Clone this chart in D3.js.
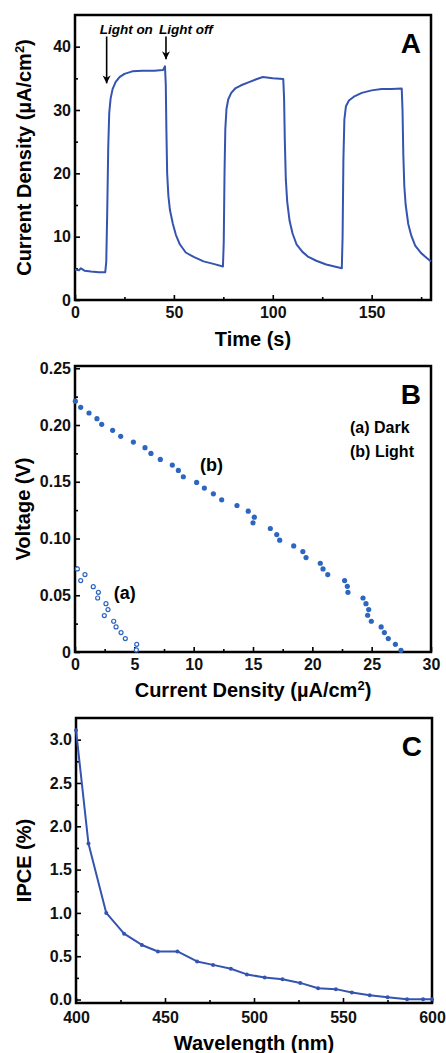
<!DOCTYPE html>
<html>
<head>
<meta charset="utf-8">
<script src="https://cdn.jsdelivr.net/npm/d3@7"></script>
<style>
  html, body { margin: 0; padding: 0; background: #fff; }
  svg { display: block; font-family: "Liberation Sans", Arial, sans-serif; }
  .tick text { font-size: 16px; font-weight: bold; fill: #111; }
  .tick line { stroke: #000; stroke-width: 1.6; }
</style>
</head>
<body>
<div id="chart"></div>
<script>
// Panel A: photocurrent transient
const timeA = [0, 2, 3, 5, 8, 12, 15.3, 15.8, 16.3, 16.8, 17.3, 18, 19, 20.5, 22.5, 25, 29, 34, 40, 44.5,
  45.5, 45.9, 46.2, 46.6, 47.2, 48, 49.5, 51, 53, 56, 60, 65, 70, 74.8, 75.2, 75.6, 76, 76.6, 77.5, 79,
  81, 84, 88, 92, 95, 100, 105.3, 105.7, 106.1, 106.6, 107.3, 108.5, 110, 112, 115, 118, 122, 127, 134.9,
  135.3, 135.7, 136.2, 137, 138.5, 141, 145, 150, 155, 160, 165.2, 165.6, 166, 166.5, 167.2, 168.5, 170,
  172, 175, 178, 180];
const currentA = [4.8, 4.7, 5.0, 4.6, 4.5, 4.4, 4.4, 6, 14, 24, 29.5, 31.8, 33.3, 34.4, 35.2, 35.7, 36.1, 36.2, 36.2, 36.3,
  36.9, 34, 27, 20, 16.5, 14.2, 12, 10.3, 8.8, 7.5, 6.8, 6.1, 5.7, 5.3, 9, 20, 27, 30.2, 31.7, 32.7,
  33.4, 33.9, 34.4, 34.9, 35.2, 35.0, 34.9, 32, 25, 19, 15.5, 12.5, 10.5, 8.8, 7.6, 6.8, 6.2, 5.6, 5.0,
  10, 22, 28.5, 30.6, 31.5, 32.1, 32.7, 33.1, 33.3, 33.3, 33.4, 30, 23, 18, 15, 12, 10.2,
  8.6, 7.4, 6.6, 6.1];
const ticksAx = [0, 50, 100, 150];
const minorAx = [25, 75, 125, 175];
const ticksAy = [0, 10, 20, 30, 40];
const minorAy = [5, 15, 25, 35];
const arrowLabels = ['Light on', 'Light off'];
const arrowTime = [16, 46];
const arrowFrom = [41.6, 41.6];
const arrowTo = [34.2, 38.0];

// Panel B: J-V curves
const darkJ = [0.2, 0.48, 0.84, 1.54, 1.97, 1.91, 2.61, 2.78, 2.47, 3.26, 3.46, 3.88, 4.24, 5.2, 5.17];
const darkV = [0.0732, 0.0629, 0.0682, 0.0576, 0.0526, 0.0476, 0.0426, 0.0374, 0.0321, 0.0271, 0.0221, 0.0171, 0.0118, 0.0068, 0.0018];
const lightJ = [0.03, 0.48, 1.18, 1.85, 2.25, 3.17, 3.85, 4.92, 5.9, 6.4, 7.19, 8.2, 8.71, 9.13, 10.25, 10.9,
  11.66, 12.36, 13.65, 14.6, 15.11, 15.0, 16.46, 17.0, 17.25, 18.43, 19.2, 19.47, 20.67, 20.9, 21.3,
  22.72, 22.95, 23.0, 24.27, 24.52, 24.75, 24.66, 24.97, 25.8, 26.07, 26.4, 27.0, 27.47];
const lightV = [0.221, 0.2156, 0.2106, 0.2056, 0.2006, 0.1953, 0.19, 0.185, 0.18, 0.175, 0.1697, 0.1647, 0.16, 0.1544, 0.1494, 0.1444,
  0.1394, 0.1341, 0.1291, 0.1241, 0.1188, 0.1138, 0.1088, 0.1035, 0.0985, 0.0935, 0.0885, 0.0832, 0.0782, 0.0732, 0.0682,
  0.0629, 0.0579, 0.0526, 0.0476, 0.0426, 0.0374, 0.0324, 0.0271, 0.0221, 0.0171, 0.0118, 0.0068, 0.0015];
const ticksBx = [0, 5, 10, 15, 20, 25, 30];
const minorBx = [2.5, 7.5, 12.5, 17.5, 22.5, 27.5];
const ticksBy = [0, 0.05, 0.10, 0.15, 0.20, 0.25];
const minorBy = [0.025, 0.075, 0.125, 0.175, 0.225];

// Panel C: IPCE spectrum
const wavelengthC = [400, 407, 417, 427, 437, 446, 457, 468, 477, 487, 496, 506, 516, 526, 536, 546, 555, 565, 575, 586, 595, 600];
const ipceC = [3.11, 1.8, 1.0, 0.76, 0.63, 0.555, 0.555, 0.44, 0.4, 0.355, 0.29, 0.255, 0.235, 0.192, 0.131, 0.12, 0.081, 0.05, 0.027, 0.003, 0.002, 0.002];
const ticksCx = [400, 450, 500, 550, 600];
const minorCx = [425, 475, 525, 575];
const ticksCy = [0, 0.5, 1.0, 1.5, 2.0, 2.5, 3.0];
const minorCy = [0.25, 0.75, 1.25, 1.75, 2.25, 2.75];

const lineColor = '#3554b0';
const dotColor = '#2d66c0';

const svg = d3.select('#chart').append('svg')
  .attr('width', 446)
  .attr('height', 1053);

svg.append('rect').attr('width', 446).attr('height', 1053).attr('fill', '#fff');

/**
 * Draws frame, major and minor inward ticks for one panel
 */
function drawAxes(g, x, y, opt) {
  const [x0, x1] = x.range();
  const [y0, y1] = y.range();

  g.append('g')
    .attr('transform', `translate(0,${y0})`)
    .call(d3.axisBottom(x).tickValues(opt.minorX).tickSize(-3).tickFormat(''))
    .call(s => s.select('.domain').remove());
  g.append('g')
    .attr('transform', `translate(0,${y0})`)
    .call(d3.axisBottom(x).tickValues(opt.ticksX).tickSize(-5).tickPadding(opt.padX).tickFormat(opt.fmtX))
    .call(s => s.select('.domain').remove());

  g.append('g')
    .attr('transform', `translate(${x0},0)`)
    .call(d3.axisLeft(y).tickValues(opt.minorY).tickSize(-3).tickFormat(''))
    .call(s => s.select('.domain').remove());
  g.append('g')
    .attr('transform', `translate(${x0},0)`)
    .call(d3.axisLeft(y).tickValues(opt.ticksY).tickSize(-5).tickPadding(4).tickFormat(opt.fmtY))
    .call(s => s.select('.domain').remove());

  g.append('rect')
    .attr('x', x0).attr('y', y1)
    .attr('width', x1 - x0).attr('height', y0 - y1)
    .attr('fill', 'none').attr('stroke', '#000').attr('stroke-width', 2.5);

  // panel letter
  g.append('text')
    .attr('x', x1 - 10).attr('y', y1 + opt.letterDy)
    .attr('text-anchor', 'end')
    .style('font-size', '28px').style('font-weight', 'bold')
    .text(opt.letter);

  // axis titles
  g.append('text')
    .attr('x', (x0 + x1) / 2).attr('y', opt.titleXy)
    .attr('text-anchor', 'middle')
    .style('font-size', '20px').style('font-weight', 'bold')
    .html(opt.titleX);
  g.append('text')
    .attr('transform', `translate(${opt.titleYx},${(y0 + y1) / 2}) rotate(-90)`)
    .attr('text-anchor', 'middle')
    .style('font-size', '20px').style('font-weight', 'bold')
    .html(opt.titleY);
}

// ---------- Panel A ----------
const xA = d3.scaleLinear().domain([0, 180]).range([75, 431]);
const yA = d3.scaleLinear().domain([0, 45]).range([300, 15]);
const gA = svg.append('g');

drawAxes(gA, xA, yA, {
  ticksX: ticksAx, minorX: minorAx, ticksY: ticksAy, minorY: minorAy,
  fmtX: d3.format('d'), fmtY: d3.format('d'), padX: 7,
  letter: 'A', letterDy: 38,
  titleX: 'Time (s)', titleXy: 346,
  titleY: 'Current Density (\u00b5A/cm<tspan dy="-7" font-size="13px">2</tspan><tspan dy="7">)</tspan>', titleYx: 31
});

gA.append('path')
  .datum(timeA.map((t, i) => [t, currentA[i]]))
  .attr('fill', 'none')
  .attr('stroke', lineColor)
  .attr('stroke-width', 2)
  .attr('stroke-linejoin', 'round')
  .attr('d', d3.line().x(d => xA(d[0])).y(d => yA(d[1])));

svg.append('defs').append('marker')
  .attr('id', 'arrowHead')
  .attr('viewBox', '0 0 10 10')
  .attr('refX', 10).attr('refY', 5)
  .attr('markerWidth', 5).attr('markerHeight', 6)
  .attr('markerUnits', 'strokeWidth')
  .attr('orient', 'auto')
  .append('path')
  .attr('d', 'M0,0 L10,5 L0,10 L3,5 Z')
  .attr('fill', '#000');

arrowLabels.forEach((label, i) => {
  gA.append('line')
    .attr('x1', xA(arrowTime[i])).attr('y1', yA(arrowFrom[i]))
    .attr('x2', xA(arrowTime[i])).attr('y2', yA(arrowTo[i]))
    .attr('stroke', '#000').attr('stroke-width', 1.6)
    .attr('marker-end', 'url(#arrowHead)');
  gA.append('text')
    .attr('x', xA(arrowTime[i]) - 7).attr('y', yA(arrowFrom[i]) - 3)
    .style('font-size', '13.5px').style('font-weight', 'bold').style('font-style', 'italic')
    .text(label);
});

// ---------- Panel B ----------
const xB = d3.scaleLinear().domain([0, 30]).range([75, 431]);
const yB = d3.scaleLinear().domain([0, 0.252]).range([652, 366]);
const gB = svg.append('g');

drawAxes(gB, xB, yB, {
  ticksX: ticksBx, minorX: minorBx, ticksY: ticksBy, minorY: minorBy,
  fmtX: d3.format('d'), fmtY: d => d === 0 ? '0' : d3.format('.2f')(d), padX: 7,
  letter: 'B', letterDy: 38,
  titleX: 'Current Density (\u00b5A/cm<tspan dy="-7" font-size="13px">2</tspan><tspan dy="7">)</tspan>', titleXy: 697,
  titleY: 'Voltage (V)', titleYx: 30
});

gB.selectAll('.light')
  .data(lightJ.map((j, i) => [j, lightV[i]]))
  .join('circle')
  .attr('class', 'light')
  .attr('cx', d => xB(d[0])).attr('cy', d => yB(d[1]))
  .attr('r', 2.6)
  .attr('fill', dotColor);

gB.selectAll('.dark')
  .data(darkJ.map((j, i) => [j, darkV[i]]))
  .join('circle')
  .attr('class', 'dark')
  .attr('cx', d => xB(d[0])).attr('cy', d => yB(d[1]))
  .attr('r', 2)
  .attr('fill', '#fff')
  .attr('stroke', dotColor)
  .attr('stroke-width', 1.2);

gB.append('text').attr('x', xB(11.5)).attr('y', yB(0.1595))
  .attr('text-anchor', 'middle')
  .style('font-size', '18px').style('font-weight', 'bold').text('(b)');
gB.append('text').attr('x', xB(4.2)).attr('y', yB(0.047))
  .attr('text-anchor', 'middle')
  .style('font-size', '18px').style('font-weight', 'bold').text('(a)');
gB.append('text').attr('x', 350).attr('y', 433)
  .style('font-size', '16px').style('font-weight', 'bold').text('(a) Dark');
gB.append('text').attr('x', 350).attr('y', 457)
  .style('font-size', '16px').style('font-weight', 'bold').text('(b) Light');

// ---------- Panel C ----------
const xC = d3.scaleLinear().domain([400, 600]).range([76, 432]);
const yC = d3.scaleLinear().domain([-0.04, 3.25]).range([1003, 718]);
const gC = svg.append('g');

drawAxes(gC, xC, yC, {
  ticksX: ticksCx, minorX: minorCx, ticksY: ticksCy, minorY: minorCy,
  fmtX: d3.format('d'), fmtY: d3.format('.1f'), padX: 9,
  letter: 'C', letterDy: 38,
  titleX: 'Wavelength (nm)', titleXy: 1050,
  titleY: 'IPCE (%)', titleYx: 31
});

const ipcePoints = wavelengthC.map((w, i) => [w, ipceC[i]]);
gC.append('path')
  .datum(ipcePoints)
  .attr('fill', 'none')
  .attr('stroke', lineColor)
  .attr('stroke-width', 2)
  .attr('stroke-linejoin', 'round')
  .attr('d', d3.line().x(d => xC(d[0])).y(d => yC(d[1])));

gC.selectAll('.pt')
  .data(ipcePoints)
  .join('circle')
  .attr('class', 'pt')
  .attr('cx', d => xC(d[0])).attr('cy', d => yC(d[1]))
  .attr('r', 2)
  .attr('fill', lineColor);
</script>
</body>
</html>
